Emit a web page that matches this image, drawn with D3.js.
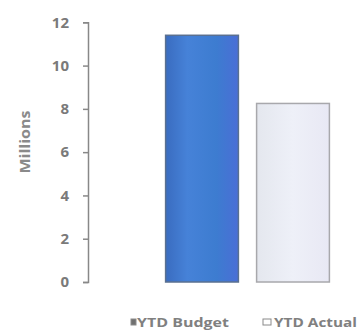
<!DOCTYPE html>
<html><head><meta charset="utf-8">
<script src="https://cdn.jsdelivr.net/npm/d3@7"></script>
<style>body{margin:0;background:#fff}svg{display:block}text{font-family:"Open Sans","Liberation Sans",sans-serif}</style>
</head><body><svg id="c" width="358" height="334"></svg>
<script>
const categories = ["YTD Budget", "YTD Actual"];
const values = [11.4, 8.25];
const yTicks = [0, 2, 4, 6, 8, 10, 12];
const yLabel = "Millions";

const svg = d3.select("#c");
const y = d3.scaleLinear().domain([0, 12]).range([282, 22.3]);
const x = d3.scaleBand().domain(categories).range([156.5, 338.5]).paddingInner(0.2).paddingOuter(0.1);

const defs = svg.append("defs");
const g1 = defs.append("linearGradient").attr("id", "gb").attr("x1", 0).attr("x2", 1);
g1.append("stop").attr("offset", "0").attr("stop-color", "#3a6cc0");
g1.append("stop").attr("offset", "0.3").attr("stop-color", "#4682d8");
g1.append("stop").attr("offset", "0.7").attr("stop-color", "#3d7cd0");
g1.append("stop").attr("offset", "1").attr("stop-color", "#4a6ed6");
const g2 = defs.append("linearGradient").attr("id", "ga").attr("x1", 0).attr("x2", 1);
g2.append("stop").attr("offset", "0").attr("stop-color", "#e4e7ee");
g2.append("stop").attr("offset", "0.5").attr("stop-color", "#eef0f8");
g2.append("stop").attr("offset", "1").attr("stop-color", "#e8e8f4");
const fills = ["url(#gb)", "url(#ga)"];
const strokes = ["#5a7090", "#a8a8ac"];

svg.selectAll("rect.bar").data(categories).join("rect").attr("class", "bar")
  .attr("x", d => x(d)).attr("width", x.bandwidth())
  .attr("y", (d, i) => y(values[i])).attr("height", (d, i) => y(0) - y(values[i]))
  .attr("fill", (d, i) => fills[i]).attr("stroke", (d, i) => strokes[i]).attr("stroke-width", 1.5);

const axis = svg.append("g").attr("transform", "translate(88,0)")
  .call(d3.axisLeft(y).tickValues(yTicks).tickSize(5).tickPadding(14).tickSizeOuter(5));
axis.select(".domain").attr("stroke", "#888").attr("stroke-width", 1.5);
axis.selectAll(".tick line").attr("stroke", "#888").attr("stroke-width", 1.5);
axis.selectAll(".tick text").attr("fill", "#7a7a7a").attr("font-size", 15).attr("font-weight", "bold");

svg.append("text").attr("transform", "translate(30,142) rotate(-90)").attr("text-anchor", "middle")
  .attr("fill", "#8a8a8a").attr("font-size", 15).attr("font-weight", "bold")
  .attr("textLength", 63).attr("lengthAdjust", "spacingAndGlyphs").text(yLabel);

const legX = [131, 263];
const legMarkW = [5, 8];
const legTextX = [6, 11];
const legLen = [92, 83];
const legFill = ["#707070", "#ffffff"];
const leg = svg.selectAll("g.leg").data(categories).join("g").attr("class", "leg")
  .attr("transform", (d, i) => `translate(${legX[i]},322)`);
leg.append("rect").attr("x", 0).attr("y", -3).attr("width", (d, i) => legMarkW[i]).attr("height", 6)
  .attr("fill", (d, i) => legFill[i]).attr("stroke", "#8a8a8a").attr("stroke-width", 1);
leg.append("text").attr("x", (d, i) => legTextX[i]).attr("y", 5).attr("fill", "#808080")
  .attr("font-size", 13).attr("font-weight", "bold")
  .attr("textLength", (d, i) => legLen[i]).attr("lengthAdjust", "spacingAndGlyphs").text(d => d);
</script></body></html>
